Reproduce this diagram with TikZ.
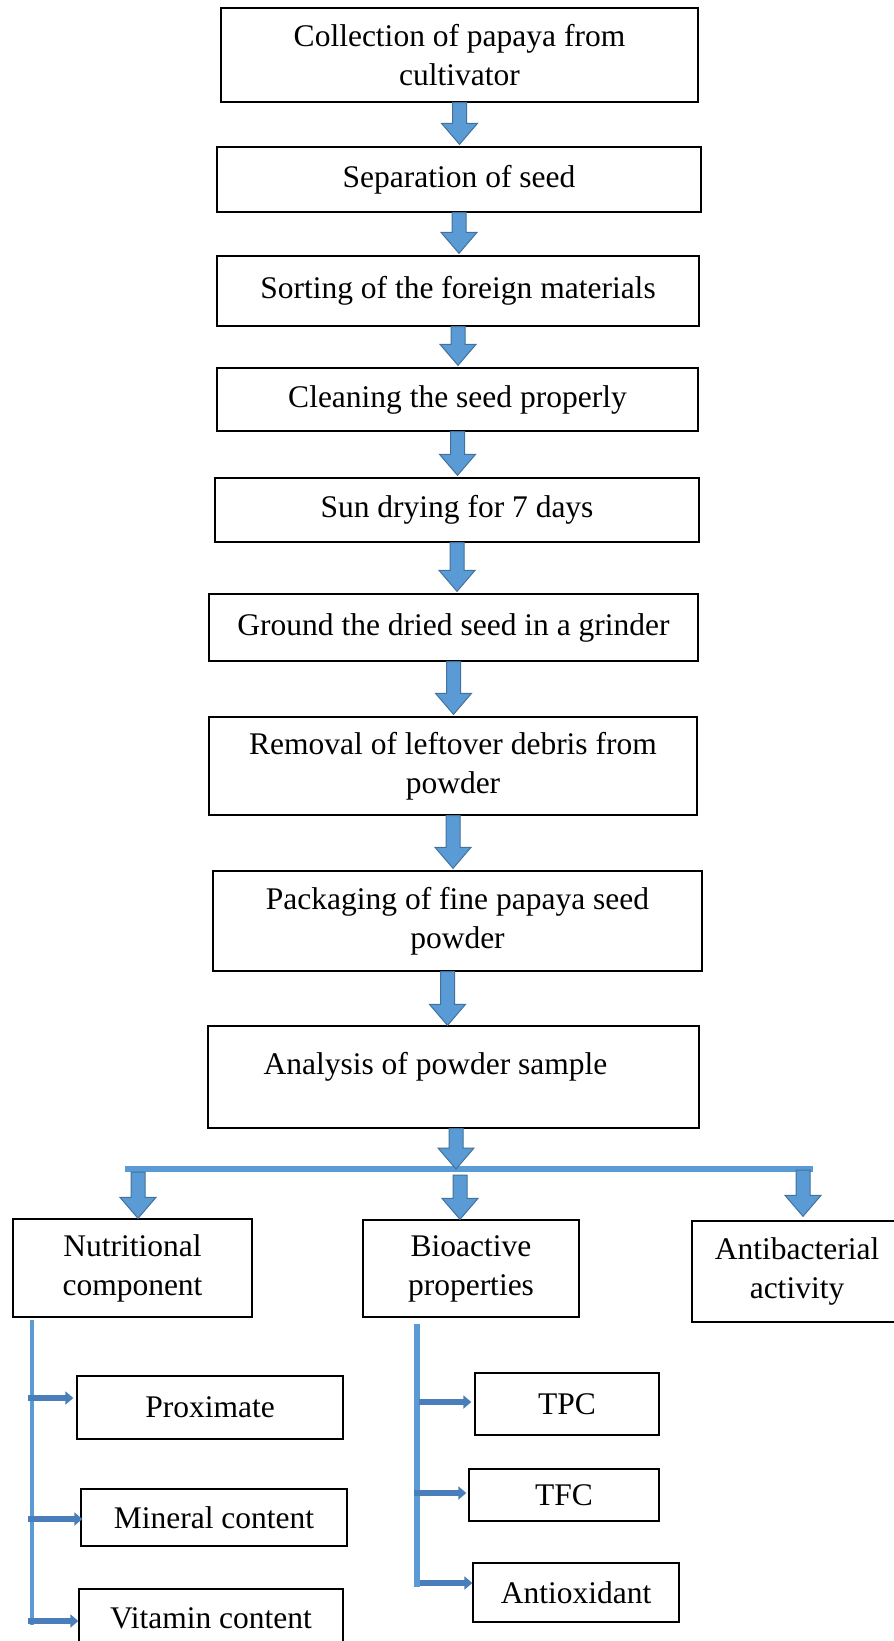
\documentclass[tikz,border=0pt]{standalone}
\usepackage{fontspec}
\setmainfont{Liberation Serif}
\usetikzlibrary{arrows.meta,calc}

\definecolor{flowblue}{RGB}{91,155,213}
\definecolor{edgeblue}{RGB}{65,113,156}
\definecolor{tipblue}{RGB}{74,126,187}

% block arrow: x and top from #1, tip at the height of #2
\newcommand{\blockarrow}[2]{%
  \filldraw[fill=flowblue,draw=edgeblue,line width=1pt]
    let \p1=#1, \p2=#2 in
    ({\x1-7pt},\y1) -- ({\x1+7pt},\y1) -- ({\x1+7pt},{\y2+21pt})
    -- ({\x1+18pt},{\y2+21pt}) -- (\x1,\y2) -- ({\x1-18pt},{\y2+21pt})
    -- ({\x1-7pt},{\y2+21pt}) -- cycle;}

\begin{document}
\begin{tikzpicture}[x=1pt,y=-1pt,
  stepbox/.style={draw,line width=1.3pt,inner sep=0pt,align=center,
    font=\fontsize{31.5}{39}\selectfont},
  size/.style 2 args={minimum width=#1,minimum height=#2},
  bar/.style={flowblue,line width=6pt},
  branch/.style={flowblue,line width=4pt},
  smallarrow/.style={tipblue,line width=6pt,-{Triangle[width=13pt,length=8pt]}}]

\useasboundingbox (0,0) rectangle (894,1641);

% Main chain of steps
\node[stepbox,size={477}{94}] (coll) at (459.5,55) {Collection of papaya from\\cultivator};
\node[stepbox,size={484}{65}] (sep) at (459,179.5) {Separation of seed};
\node[stepbox,size={482}{70}] (sort) at (458,291) {Sorting of the foreign materials};
\node[stepbox,size={481}{63}] (clean) at (457.5,399.5) {Cleaning the seed properly};
\node[stepbox,size={484}{64}] (sun) at (457,510) {Sun drying for 7 days};
\node[stepbox,size={489}{67}] (ground) at (453.5,627.5) {Ground the dried seed in a grinder};
\node[stepbox,size={488}{98}] (remov) at (453,766) {Removal of leftover debris from\\powder};
\node[stepbox,size={489}{100}] (pack) at (457.5,921) {Packaging of fine papaya seed\\powder};
\node[stepbox,size={491}{102},text depth=28pt] (anal) at (453.5,1077) {Analysis of powder sample\hspace{36pt}\mbox{}};

\foreach \a/\b in {coll/sep,sep/sort,sort/clean,clean/sun,sun/ground,ground/remov,remov/pack}
  \blockarrow{(\a.south)}{([yshift=2pt]\b.north)};
\blockarrow{([xshift=-10pt]pack.south)}{(anal.north)};

% Three kinds of analysis
\node[stepbox,size={239}{98}] (nutri) at (132.5,1268) {Nutritional\\component};
\node[stepbox,size={216}{97}] (bio) at (471,1268.5) {Bioactive\\properties};
\node[stepbox,size={210}{101}] (antib) at (797,1271.5) {Antibacterial\\activity};

\coordinate (barL) at (125,1169);
\coordinate (barR) at (813,1169);
\draw[bar] (barL) -- (barR);
\blockarrow{([xshift=2.5pt]anal.south)}{(barL -| 456,0)};
\blockarrow{(138,1172)}{(nutri.north)};
\blockarrow{(460,1175)}{(bio.north)};
\blockarrow{(803,1170)}{([yshift=4pt]antib.north)};

% Sub-analyses
\node[stepbox,size={266}{63}] (prox) at (210,1407.5) {Proximate};
\node[stepbox,size={266}{57}] (miner) at (214,1517.5) {Mineral content};
\node[stepbox,size={264}{59}] (vita) at (211,1618.5) {Vitamin content};
\node[stepbox,size={184}{62}] (tpc) at (567,1404) {TPC};
\node[stepbox,size={190}{52}] (tfc) at (564,1495) {TFC};
\node[stepbox,size={206}{59}] (antiox) at (576,1592.5) {Antioxidant};

\coordinate (ntop) at (32,1320);
\coordinate (nbot) at (32,1625);
\draw[branch] (ntop) -- (nbot);
\draw[smallarrow] ($(ntop |- prox.west)+(-4,-9.5)$) -- ([yshift=9.5pt,xshift=-3pt]prox.west);
\draw[smallarrow] ($(ntop |- miner.west)+(-4,1.5)$) -- ([yshift=-1.5pt,xshift=2pt]miner.west);
\draw[smallarrow] ($(ntop |- vita.west)+(-4,2.5)$) -- ([yshift=-2.5pt]vita.west);

\coordinate (btop) at (417,1324);
\coordinate (bbot) at (417,1587);
\draw[bar] (btop) -- (bbot);
\draw[smallarrow] ($(btop |- tpc.west)+(2,-2)$) -- ([yshift=2pt,xshift=-3pt]tpc.west);
\draw[smallarrow] ($(btop |- tfc.west)+(-3,-2)$) -- ([yshift=2pt,xshift=-2pt]tfc.west);
\draw[smallarrow] ($(btop |- antiox.west)+(3,-9.5)$) -- ([yshift=9.5pt]antiox.west);

\end{tikzpicture}
\end{document}
